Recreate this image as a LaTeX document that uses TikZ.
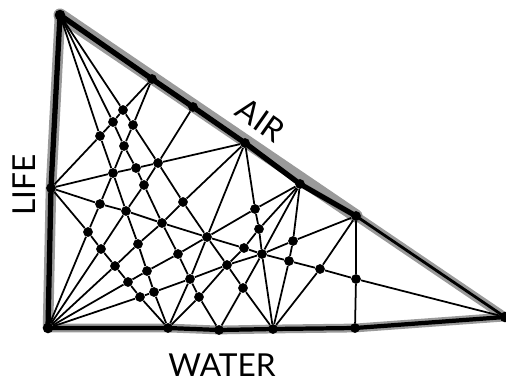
\documentclass[tikz,border=0pt]{standalone}
\usepackage{fontspec}
\usetikzlibrary{backgrounds}
\newfontfamily\labelfont{Lato}
\definecolor{RimGray}{RGB}{120, 120, 120}

\begin{document}
\begin{tikzpicture}[
    x=0.02cm, y=-0.02cm,
    dot/.style={circle, fill=black, inner sep=0pt, minimum size=0.195cm},
    corner/.style={circle, fill=black, inner sep=0pt, minimum size=0.21cm},
    link/.style={black, line width=1pt},
    rim/.style={RimGray, opacity=0.75, line cap=round, line join=round},
    rimcore/.style={black, line cap=round, line join=round},
    label/.style={font=\labelfont\fontsize{18}{21}\selectfont}
  ]
    \useasboundingbox (0,0) rectangle (506,382);

    % Corners
    \node[corner] (top) at (60,15) {};
    \node[corner] (low) at (48,328) {};
    \node[corner] (right) at (505,317) {};
    \node[dot] (mid) at (51,188) {};

    % Nodes on the air side
    \foreach \i/\x/\y in {1/152/79, 2/193/107, 3/245/143, 4/300/184, 5/356/216} {
      \node[dot] (a\i) at (\x,\y) {};
    }

    % Nodes on the water side
    \foreach \i/\x/\y in {1/168/328, 2/219/330, 3/273/329, 4/355/328} {
      \node[dot] (b\i) at (\x,\y) {};
    }

    % Inner nodes
    \foreach \i/\x/\y in {1/123/110, 2/113/122, 3/133/125, 4/100/136, 5/124/146,
        6/113/173, 7/136/168, 8/158/163, 9/144/185, 10/183/202,
        11/100/204, 12/126/211, 13/162/223, 14/88/232, 15/101/249,
        16/138/244, 17/178/254, 18/115/266, 19/147/271, 20/190/279,
        21/128/282, 22/154/292, 23/140/297, 24/207/237, 25/227/265,
        26/244/248, 27/255/209, 28/259/229, 29/199/297, 30/243/288,
        31/293/241, 32/262/254, 33/289/261, 34/320/269, 35/356/279} {
      \node[dot] (m\i) at (\x,\y) {};
    }

    % Lines from the top corner
    \draw[link] (top) -- (m4) -- (m6) -- (m12) -- (m16) -- (m19) -- (m22) -- (b1);
    \draw[link] (top) -- (m2) -- (m5) -- (m7) -- (m9) -- (m13) -- (m17) -- (m20) -- (m29) -- (b2);
    \draw[link] (top) -- (m1) -- (m3) -- (m8) -- (m10) -- (m24) -- (m25) -- (m30) -- (b3);

    % Lines from the low corner
    \draw[link] (low) -- (m14) -- (m11) -- (m6) -- (m5) -- (m3) -- (a1);
    \draw[link] (low) -- (m15) -- (m12) -- (m9) -- (m8) -- (a2);
    \draw[link] (low) -- (m18) -- (m16) -- (m13) -- (m10) -- (a3);
    \draw[link] (low) -- (m21) -- (m19) -- (m17) -- (m24) -- (m27) -- (a4);
    \draw[link] (low) -- (m23) -- (m22) -- (m20) -- (m25) -- (m32) -- (m31) -- (a5);

    % Lines from the middle of the life side
    \draw[link] (mid) -- (m6) -- (m7) -- (m8) -- (a3);
    \draw[link] (mid) -- (m11) -- (m12) -- (m13) -- (m24) -- (m26) -- (m32) -- (m33) -- (m34) -- (m35) -- (right);
    \draw[link] (mid) -- (m14) -- (m15) -- (m18) -- (m21) -- (m23) -- (b1);
    \draw[link] (a1) -- (m1) -- (m2) -- (m4) -- (mid);

    % Lines between air and water
    \draw[link] (a3) -- (m24) -- (m20) -- (b1);
    \draw[link] (a3) -- (m27) -- (m28) -- (m32) -- (b3);
    \draw[link] (b1) -- (m29) -- (m25) -- (m26) -- (m28) -- (a4);
    \draw[link] (a4) -- (m32) -- (m30) -- (b2);
    \draw[link] (a4) -- (m31) -- (m33) -- (b3);
    \draw[link] (a5) -- (m34) -- (b3);
    \draw[link] (a5) -- (m35) -- (b4);

    % Sides of the triangle
    \begin{scope}[on background layer]
      \draw[rim, line width=7.5pt] (top.center) -- (a5.center);
      \draw[rim, line width=5pt] (a5.center) -- (right.center);
      \draw[rim, line width=6pt] (top.center) -- (mid.center) -- (low.center);
      \draw[rim, line width=5pt] (low.center) -- (b1.center) -- (b2.center) -- (b3.center) -- (b4.center) -- (right.center);
      \draw[rimcore, line width=3pt] (top.center) -- (a1.center) -- (a2.center) -- (a3.center) -- (a4.center) -- (a5.center);
      \draw[rimcore, line width=1.6pt] (a5.center) -- (right.center);
      \draw[rimcore, line width=3pt] (top.center) -- (mid.center) -- (low.center);
      \draw[rimcore, line width=2.4pt] (low.center) -- (b1.center) -- (b2.center) -- (b3.center) -- (b4.center) -- (right.center);
    \end{scope}

    % Labels
    \node[label, rotate=90] (life) at (24,185) {LIFE};
    \node[label, rotate=-35] (air) at (261,120) {AIR};
    \node[label] (water) at (222,365) {WATER};
  \end{tikzpicture}
\end{document}
